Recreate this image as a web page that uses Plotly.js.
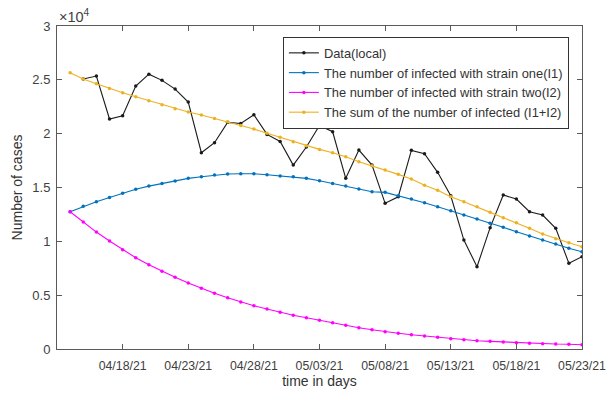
<!DOCTYPE html>
<html>
<head>
<meta charset="utf-8">
<script src="https://cdn.plot.ly/plotly-3.0.1.min.js"></script>
<style>html,body{margin:0;padding:0;background:#fff;}#chart{width:606px;height:396px;}</style>
</head>
<body>
<div id="chart"></div>
<script>
// Model start date (I1, I2, sum) and data start date
const modelStart = '2021-04-14';
const dataStart = '2021-04-15';

// Reported local cases (04/15/21 .. 05/23/21)
const dataLocal = [25070, 25350, 21360, 21660, 24420, 25530, 24950, 24140, 22930, 18230,
  19160, 21050, 20950, 21760, 19930, 19280, 17080, 18760, 20770, 20180,
  15850, 18480, 17080, 13530, 14140, 18450, 18140, 16410, 14230, 10120,
  7640, 11270, 14300, 13930, 12750, 12440, 11210, 7960, 8570];

// The number of infected with strain one (I1), 04/14/21 .. 05/23/21
const strainOne = [12750, 13250, 13680, 14080, 14460, 14830, 15130, 15380, 15600, 15850,
  16000, 16160, 16250, 16280, 16280, 16180, 16060, 16000, 15850, 15620,
  15380, 15130, 14860, 14600, 14550, 14240, 13930, 13580, 13210, 12840,
  12440, 12070, 11670, 11300, 10890, 10490, 10120, 9750, 9350, 9030];

// The number of infected with strain two (I2)
const strainTwo = [12750, 11790, 10860, 10030, 9220, 8480, 7830, 7210, 6660, 6130,
  5640, 5170, 4760, 4360, 4020, 3710, 3410, 3130, 2910, 2670,
  2440, 2200, 1980, 1790, 1610, 1460, 1330, 1210, 1090, 960,
  860, 770, 710, 650, 580, 530, 490, 460, 440, 400];

// The sum of the number of infected (I1+I2)
const sumInfected = [25660, 25070, 24640, 24200, 23800, 23430, 23060, 22680, 22310, 22010,
  21730, 21420, 21110, 20770, 20430, 20030, 19660, 19250, 18880, 18540,
  18230, 17860, 17390, 17020, 16620, 16220, 15780, 15200, 14750, 14140,
  13680, 13210, 12690, 12190, 11730, 11210, 10680, 10240, 9870, 9500];

const xTickVals = ['2021-04-18', '2021-04-23', '2021-04-28', '2021-05-03', '2021-05-08', '2021-05-13', '2021-05-18', '2021-05-23'];
const xTickText = ['04/18/21', '04/23/21', '04/28/21', '05/03/21', '05/08/21', '05/13/21', '05/18/21', '05/23/21'];
const yTickVals = [0, 5000, 10000, 15000, 20000, 25000, 30000];
const yTickText = ['0', '0.5', '1', '1.5', '2', '2.5', '3'];

function dateSeq(start, n) {
  const out = [];
  const d0 = new Date(start + 'T00:00:00Z');
  for (let i = 0; i < n; i++) {
    const d = new Date(d0.getTime() + i * 86400000);
    out.push(d.toISOString().slice(0, 10));
  }
  return out;
}

const xModel = dateSeq(modelStart, strainOne.length);
const xData = dateSeq(dataStart, dataLocal.length);

function tr(x, y, name, color) {
  return {
    x: x, y: y, name: name, type: 'scatter', mode: 'lines+markers',
    line: {color: color, width: 1.1},
    marker: {color: color, size: 3.5, symbol: 'circle'}
  };
}

const traces = [
  tr(xData, dataLocal, 'Data(local)', '#1a1a1a'),
  tr(xModel, strainOne, 'The number of infected with strain one(I1)', '#0072BD'),
  tr(xModel, strainTwo, 'The number of infected with strain two(I2)', '#FF00FF'),
  tr(xModel, sumInfected, 'The sum of the number of infected (I1+I2)', '#EDB120')
];

const FONT = 'Liberation Sans, Arial, sans-serif';
const axisCommon = {
  showline: true, linecolor: '#5a5a5a', linewidth: 1,
  mirror: 'ticks', ticks: 'inside', ticklen: 5, tickcolor: '#5a5a5a',
  showgrid: false, zeroline: false,
  ticklabeloverflow: 'allow',
  tickfont: {family: FONT, size: 12.3, color: '#404040'}
};

const layout = {
  width: 606, height: 396,
  margin: {l: 57, r: 24, t: 26, b: 47},
  paper_bgcolor: '#ffffff', plot_bgcolor: '#ffffff',
  font: {family: FONT, color: '#404040'},
  showlegend: true,
  xaxis: Object.assign({}, axisCommon, {
    type: 'date', range: ['2021-04-13', '2021-05-23'],
    tickmode: 'array', tickvals: xTickVals, ticktext: xTickText,
    ticklabelstandoff: 5,
    title: {text: 'time in days', font: {family: FONT, size: 14, color: '#333333'}, standoff: 4}
  }),
  yaxis: Object.assign({}, axisCommon, {
    range: [0, 30000], tickmode: 'array', tickvals: yTickVals, ticktext: yTickText,
    ticklabelstandoff: 3,
    tickfont: {family: FONT, size: 13, color: '#404040'},
    title: {text: 'Number of cases', font: {family: FONT, size: 14, color: '#333333'}, standoff: 6}
  }),
  legend: {
    x: 0.975, y: 0.966, xanchor: 'right', yanchor: 'top',
    bgcolor: '#ffffff', bordercolor: '#333333', borderwidth: 1,
    font: {family: FONT, size: 12.9, color: '#333333'},
    tracegroupgap: 0, itemwidth: 30
  },
  annotations: [{
    xref: 'paper', yref: 'paper', x: 0, y: 1, xanchor: 'left', yanchor: 'bottom',
    text: '×10<sup>4</sup>', showarrow: false,
    font: {family: FONT, size: 14.5, color: '#404040'},
    yshift: -1
  }]
};

Plotly.newPlot('chart', traces, layout, {displayModeBar: false, staticPlot: true});
</script>
</body>
</html>
